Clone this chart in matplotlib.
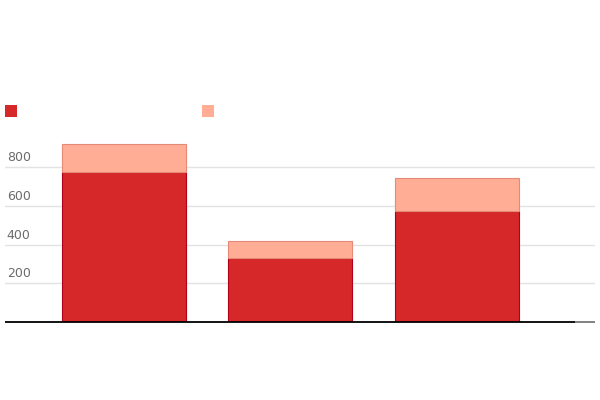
import matplotlib.pyplot as plt
import matplotlib.transforms as mtransforms
from matplotlib.patches import Rectangle

# values
categories = ['A', 'B', 'C']
base_vals = [777, 332, 575]
top_vals = [143, 87, 168]
y_ticks = [200, 400, 600, 800]

dark = '#d62829'
dark_edge = '#b0001c'
light = '#ffad94'
light_edge = '#e58a78'

fig = plt.figure(figsize=(6, 4), dpi=100)
ax = fig.add_axes([5 / 600, 78 / 400, 590 / 600, 193.4 / 400])

x = list(range(len(categories)))
ax.bar(x, base_vals, width=0.742, color=dark, edgecolor=dark_edge,
       linewidth=0.8, zorder=3)
ax.bar(x, top_vals, width=0.742, bottom=base_vals, color=light,
       edgecolor=light_edge, linewidth=0.8, zorder=3)

ax.set_xlim(-0.713, 2.83)
ax.set_ylim(0, 1000)

# horizontal grid lines
for t in y_ticks:
    ax.axhline(t, color='#e3e3e3', linewidth=1, zorder=1)

# tick labels sit just above their grid lines
lab_tr = mtransforms.blended_transform_factory(
    ax.transAxes, mtransforms.offset_copy(ax.transData, fig=fig, x=0, y=3, units='dots'))
for t in y_ticks:
    ax.text(0.003, t, str(t), transform=lab_tr, ha='left', va='bottom',
            fontsize=9, color='#6b6b6b')

# baseline: black, then grey at the end
ax.plot([-0.713, 2.71], [0, 0], color='black', linewidth=1.3, zorder=4,
        solid_capstyle='butt', clip_on=False)
ax.plot([2.71, 2.83], [0, 0], color='#777777', linewidth=1.3, zorder=4,
        solid_capstyle='butt', clip_on=False)

ax.set_xticks([])
ax.set_yticks([])
for s in ax.spines.values():
    s.set_visible(False)

# legend swatches (no text in the reference)
for px, c in [(5, dark), (202, light)]:
    fig.patches.append(Rectangle((px / 600, (400 - 117) / 400), 12 / 600, 12 / 400,
                                 transform=fig.transFigure, facecolor=c,
                                 edgecolor='none'))

fig.savefig('out.png', dpi=100)
